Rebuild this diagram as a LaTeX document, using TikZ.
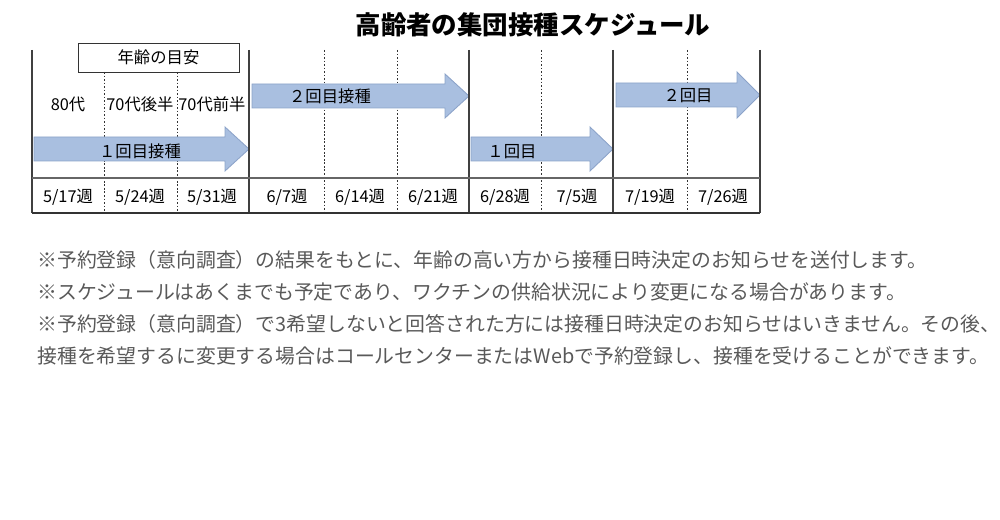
\documentclass[tikz,border=0pt]{standalone}
\usepackage{fontspec}
\setmainfont{Noto Sans CJK JP}
\usetikzlibrary{shapes.arrows}
\definecolor{arrowfill}{HTML}{A9BFE0}
\definecolor{arrowline}{HTML}{8CA3C9}
\definecolor{notegray}{HTML}{595959}
\tikzset{
  cell/.style={font=\fontsize{9.3}{11}\selectfont, inner sep=0pt},
  note/.style={anchor=west, font=\fontsize{11.3}{13}\selectfont, text=notegray, inner sep=0pt},
  solidline/.style={draw=black!75, line width=0.9pt},
  dashline/.style={draw=black!80, dashed, dash pattern=on 1pt off 1pt, line width=0.4pt},
}
\newcommand{\doseArrow}[6]{% x0, x1, headstart, ybody-top, ybody-bot, half head
  \filldraw[fill=arrowfill, draw=arrowline, line width=0.5pt]
    (#1,#4) -- (#3,#4) -- (#3,#4-#6) -- (#2,{(#4+#5)/2}) -- (#3,#5+#6) -- (#3,#5) -- (#1,#5) -- cycle;
}
\begin{document}
\begin{tikzpicture}[x=0.02cm, y=-0.02cm]
\useasboundingbox (0,0) rectangle (1000,520);

% title
\node[font=\bfseries\fontsize{14.5}{16}\selectfont] (title) at (533,25) {高齢者の集団接種スケジュール};

% dashed week lines
\foreach \x in {104,177} \draw[dashline] (\x,72) -- (\x,213);
\foreach \x in {324,397,541,687} \draw[dashline] (\x,50) -- (\x,213);

% arrows
\doseArrow{34}{249}{225}{137}{161}{10}
\doseArrow{252}{469}{445}{84}{108}{10}
\doseArrow{471}{613}{590}{137}{161}{10}
\doseArrow{616}{760}{737}{83}{107}{11}
\node[cell] (dose1a) at (140,151) {１回目接種};
\node[cell] (dose2a) at (330,96) {２回目接種};
\node[cell] (dose1b) at (512,152) {１回目};
\node[cell] (dose2b) at (688,96) {２回目};

% frame
\foreach \x in {32,249,469,613,760} \draw[solidline] (\x,50) -- (\x,213);
\draw[draw=black!60, line width=0.6pt] (32,178) -- (760,178);
\draw[draw=black!80, line width=0.6pt] (32,213) -- (760,213);

% age box
\node[cell, draw=black!80, line width=0.5pt, minimum width=161*0.02cm, minimum height=29*0.02cm] (agebox) at (158.5,57.5) {年齢の目安};
\node[cell] (age80) at (68,104) {80代};
\node[cell] (age75) at (140,104) {70代後半};
\node[cell] (age70) at (212,104) {70代前半};

% weeks
\foreach \x/\d in {68/5\slash17週,140/5\slash24週,212/5\slash31週,287/6\slash7週,360/6\slash14週,433/6\slash21週,505/6\slash28週,577/7\slash5週,650/7\slash19週,723/7\slash26週}
  \node[cell] at (\x,197) {\d};

% notes
\node[note] (n1) at (37,260) {※予約登録（意向調査）の結果をもとに、年齢の高い方から接種日時決定のお知らせを送付します。};
\node[note] (n2) at (37,292) {※スケジュールはあくまでも予定であり、ワクチンの供給状況により変更になる場合があります。};
\node[note] (n3) at (37,324) {※予約登録（意向調査）で3希望しないと回答された方には接種日時決定のお知らせはいきません。その後、};
\node[note] (n4) at (37,356) {接種を希望するに変更する場合はコールセンターまたはWebで予約登録し、接種を受けることができます。};
\end{tikzpicture}
\end{document}
